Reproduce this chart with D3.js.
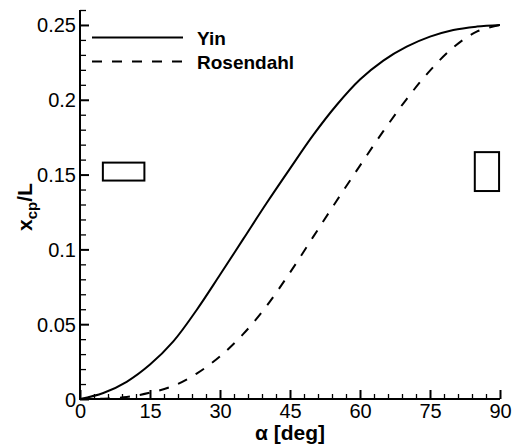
<!DOCTYPE html>
<html><head><meta charset="utf-8">
<script src="https://cdn.jsdelivr.net/npm/d3@7/dist/d3.min.js"></script>
<style>
html,body{margin:0;padding:0;background:#fff;}
svg{display:block;}
text{font-family:"Liberation Sans",Arial,Helvetica,sans-serif;fill:#000;}
</style></head>
<body>
<svg id="chart" width="531" height="446"></svg>
<script>
// ---- data ----
const alpha = [0,5,10,15,20,25,30,35,40,45,50,55,60,65,70,75,80,85,90];
const yin = [0,0.004,0.0115,0.023,0.0385,0.0595,0.083,0.107,0.131,0.154,0.1765,0.1965,0.2135,0.2262,0.2355,0.2422,0.2467,0.2489,0.25];
const rosendahl = [0,0.0002,0.0013,0.0042,0.0088,0.0170,0.0285,0.0435,0.0622,0.0845,0.1085,0.1325,0.1560,0.1790,0.2005,0.2195,0.2350,0.2455,0.25];
const seriesNames = ["Yin","Rosendahl"];
const xMajorTicks = [0,15,30,45,60,75,90];
const yMajorTicks = [0,0.05,0.1,0.15,0.2,0.25];
const yTickLabels = ["0","0.05","0.1","0.15","0.2","0.25"];
const boxesX = [[4.9,13.8],[84.6,89.8]];
const boxesY = [[0.146,0.158],[0.139,0.165]];

// ---- layout ----
const svg = d3.select("#chart");
const x = d3.scaleLinear().domain([0,90]).range([80,500]);
const y = d3.scaleLinear().domain([0,0.26]).range([399,10]);

const xMinor = d3.range(0,91,3).filter(v=>v%15!==0);
const yMinor = d3.range(0,27,1).map(v=>v/100).filter(v=>Math.round(v*100)%5!==0);

// minor ticks
svg.append("g").attr("transform","translate(0,399)")
  .call(d3.axisBottom(x).tickValues(xMinor).tickSize(-5).tickFormat(""))
  .call(g=>{g.select(".domain").remove(); g.selectAll("line").attr("stroke-width",1.3);});
svg.append("g").attr("transform","translate(80,0)")
  .call(d3.axisLeft(y).tickValues(yMinor).tickSize(-6).tickFormat(""))
  .call(g=>{g.select(".domain").remove(); g.selectAll("line").attr("stroke-width",1.3);});

// major axes
const gx = svg.append("g").attr("transform","translate(0,399)")
  .call(d3.axisBottom(x).tickValues(xMajorTicks).tickSize(-9).tickSizeOuter(0).tickPadding(5).tickFormat(d3.format("d")));
const gy = svg.append("g").attr("transform","translate(80,0)")
  .call(d3.axisLeft(y).tickValues(yMajorTicks).tickSize(-9).tickSizeOuter(0).tickPadding(4)
    .tickFormat((d,i)=>yTickLabels[i]));
[gx,gy].forEach(g=>{
  g.select(".domain").attr("stroke-width",2);
  g.selectAll(".tick line").attr("stroke-width",2);
  g.selectAll(".tick text").style("font-size","20px").style("font-family","'Liberation Sans',Arial,sans-serif");
});
gy.selectAll(".tick text").attr("dy","0.35em");
// y-axis domain to top
gy.select(".domain").attr("d",`M0,${y(0)+1}V${y(0.26)}`);
gx.select(".domain").attr("d",`M${x(0)-1},0H${x(90)}`);

// curves
const line = d3.line().x((d,i)=>x(alpha[i])).y(d=>y(d)).curve(d3.curveCatmullRom.alpha(0.5));
svg.append("path").attr("d",line(yin)).attr("fill","none").attr("stroke","#000").attr("stroke-width",2);
svg.append("path").attr("d",line(rosendahl)).attr("fill","none").attr("stroke","#000").attr("stroke-width",2)
  .attr("stroke-dasharray","10,10");

// boxes
boxesX.forEach((bx,i)=>{
  svg.append("rect").attr("x",x(bx[0])).attr("y",y(boxesY[i][1]))
    .attr("width",x(bx[1])-x(bx[0])).attr("height",y(boxesY[i][0])-y(boxesY[i][1]))
    .attr("fill","#fff").attr("stroke","#000").attr("stroke-width",2);
});

// legend
const leg = [{y:37.5,dash:null},{y:61.5,dash:"10,10"}];
leg.forEach((l,i)=>{
  svg.append("line").attr("x1",92).attr("x2",183).attr("y1",l.y).attr("y2",l.y)
    .attr("stroke","#000").attr("stroke-width",2).attr("stroke-dasharray",l.dash);
  svg.append("text").attr("x",197).attr("y",l.y+7).style("font-size","19px").style("font-weight","bold")
    .text(seriesNames[i]);
});

// axis titles
svg.append("text").attr("x",290).attr("y",440).attr("text-anchor","middle")
  .style("font-size","21px").style("font-weight","bold").text("α [deg]");
const yt = svg.append("text").attr("transform","translate(32,207) rotate(-90)").attr("text-anchor","middle")
  .style("font-size","21px").style("font-weight","bold");
yt.append("tspan").text("x");
yt.append("tspan").attr("baseline-shift","-30%").style("font-size","15px").text("cp");
yt.append("tspan").text("/L");
</script>
</body></html>
